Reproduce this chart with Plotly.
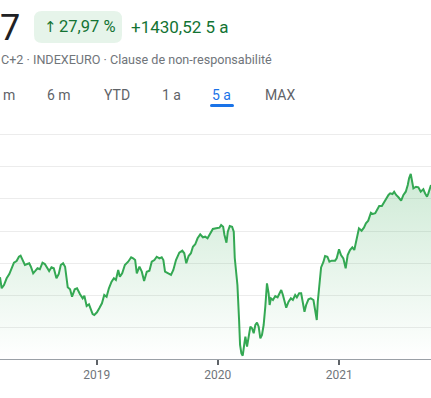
import plotly.graph_objects as go

# ---- data ----
dates = [
    "2018-03-16","2018-03-21","2018-03-28","2018-04-05","2018-04-13","2018-04-20","2018-04-27",
    "2018-05-05","2018-05-12","2018-05-17","2018-05-23","2018-05-30","2018-06-06","2018-06-12",
    "2018-06-17","2018-06-24","2018-07-01","2018-07-07","2018-07-14","2018-07-22","2018-07-29",
    "2018-08-05","2018-08-11","2018-08-18","2018-08-25","2018-09-02","2018-09-09","2018-09-15",
    "2018-09-22","2018-09-28","2018-10-06","2018-10-13","2018-10-19","2018-10-27","2018-11-03",
    "2018-11-12","2018-11-20","2018-11-25","2018-12-02","2018-12-09","2018-12-14","2018-12-20",
    "2018-12-25",
    "2019-01-02","2019-01-09","2019-01-17","2019-01-24","2019-01-31","2019-02-07","2019-02-15",
    "2019-02-22","2019-02-28","2019-03-07","2019-03-12","2019-03-19","2019-03-27","2019-04-06",
    "2019-04-15","2019-04-21","2019-04-27","2019-05-02","2019-05-10","2019-05-17","2019-05-24",
    "2019-06-01","2019-06-09","2019-06-16","2019-06-24","2019-07-01","2019-07-09","2019-07-16",
    "2019-07-21","2019-07-26","2019-08-05","2019-08-13","2019-08-20","2019-08-28","2019-09-07",
    "2019-09-16","2019-09-22","2019-09-28","2019-10-05","2019-10-12","2019-10-18","2019-10-25",
    "2019-11-01","2019-11-09","2019-11-17","2019-11-24","2019-12-01","2019-12-09","2019-12-17",
    "2019-12-27",
    "2020-01-06","2020-01-11","2020-01-17","2020-01-21","2020-01-27","2020-01-31","2020-02-06",
    "2020-02-13","2020-02-18","2020-02-21","2020-02-25","2020-02-29","2020-03-05","2020-03-08",
    "2020-03-12","2020-03-16","2020-03-21","2020-03-24","2020-03-29","2020-04-03","2020-04-08",
    "2020-04-13","2020-04-18","2020-04-23","2020-04-28","2020-05-03","2020-05-08","2020-05-13",
    "2020-05-18","2020-05-23","2020-05-28","2020-06-02","2020-06-05","2020-06-09","2020-06-15",
    "2020-06-22","2020-06-29","2020-07-05","2020-07-10","2020-07-15","2020-07-20","2020-07-25",
    "2020-08-01","2020-08-08","2020-08-14","2020-08-21","2020-08-26","2020-09-02","2020-09-08",
    "2020-09-13","2020-09-18","2020-09-23","2020-09-30","2020-10-07","2020-10-15","2020-10-20",
    "2020-10-25","2020-10-28","2020-11-02","2020-11-07","2020-11-14","2020-11-19","2020-11-26",
    "2020-12-02","2020-12-09","2020-12-19","2020-12-24","2020-12-31",
    "2021-01-06","2021-01-13","2021-01-20","2021-01-26","2021-02-02","2021-02-09","2021-02-15",
    "2021-02-22","2021-03-01","2021-03-09","2021-03-16","2021-03-22","2021-03-29","2021-04-06",
    "2021-04-12","2021-04-19","2021-04-24","2021-05-01","2021-05-09","2021-05-16","2021-05-22",
    "2021-05-29","2021-06-03","2021-06-10","2021-06-15","2021-06-21","2021-06-28","2021-07-06",
    "2021-07-13","2021-07-20","2021-07-26","2021-07-30","2021-08-04","2021-08-07","2021-08-12",
    "2021-08-20","2021-08-27","2021-09-03","2021-09-11","2021-09-16","2021-09-22","2021-09-26",
    "2021-10-01","2021-10-04",
]
values = [
    4777,4605,4656,4761,4828,4917,5005,
    5031,5098,5114,5047,4969,4984,4995,
    4942,4839,4880,4917,4902,5005,4984,
    4917,4875,4933,4917,4761,4828,4969,
    4995,4942,4620,4589,4473,4589,4605,
    4511,4448,4489,4328,4355,4292,4203,
    4188,
    4230,4292,4370,4500,4473,4605,4708,
    4761,4734,4891,4786,4839,4969,5020,
    5089,5073,5047,4839,4942,4864,4719,
    4864,4880,5020,5047,5098,5073,5089,
    5047,4864,4828,4813,4891,5047,5161,
    5192,5152,4995,5109,5152,5255,5292,
    5386,5448,5402,5411,5386,5464,5531,
    5542,
    5552,5594,5567,5438,5317,5489,5578,
    5567,5489,5078,4786,4656,4109,3719,
    3589,3552,3745,3848,3692,3875,4005,
    3980,3902,4031,4067,4005,3823,3875,
    4031,4317,4683,4527,4344,4448,4422,
    4484,4464,4527,4578,4500,4395,4302,
    4395,4448,4422,4500,4464,4527,4527,
    4395,4239,4344,4433,4448,4422,4266,
    4109,4395,4734,4930,5016,5109,5098,
    5020,5036,5036,5073,5214,
    5125,5073,4917,5125,5203,5245,5203,
    5359,5542,5505,5552,5620,5661,5786,
    5766,5777,5828,5891,5891,5958,6011,
    6063,6089,6078,6114,6063,6027,5973,
    6063,6114,6219,6323,6391,6297,6167,
    6192,6183,6114,6152,6089,6036,6089,
    6192,6219,
]
tick_vals = ["2019-01-01", "2020-01-01", "2021-01-01"]
tick_text = ["2019", "2020", "2021"]
x_window = ["2018-03-16", "2021-10-04"]
y_window = [3500, 7078]
grid_step = 500

header_value = "7"
badge_arrow = "↑"
badge_pct = "27,97 %"
change_text = "+1430,52 5 a"
source_text = "C+2 · INDEXEURO · Clause de non-responsabilité"
tabs = ["m", "6 m", "YTD", "1 a", "5 a", "MAX"]
tab_centers = [8.5, 59, 117, 171.5, 222, 280]
active_tab = "5 a"

# ---- layout geometry (pixels) ----
W, H = 431, 398
PLOT_TOP, PLOT_BOTTOM = 130, 359
PH = PLOT_BOTTOM - PLOT_TOP

def px(x):
    return x / W

def py(y):
    return (PLOT_BOTTOM - y) / PH

GREEN_LINE = "#34a853"
GREEN_TEXT = "#137333"
GREY_TEXT = "#70757a"
TAB_GREY = "#5f6368"
BLUE = "#1a73e8"
FONT = "Roboto, Arial, sans-serif"

fig = go.Figure()
fig.add_trace(go.Scatter(
    x=dates, y=values, mode="lines",
    line=dict(color=GREEN_LINE, width=2),
    fill="tozeroy",
    fillgradient=dict(
        type="vertical",
        colorscale=[[0, "rgba(52,168,83,0.0)"], [1, "rgba(52,168,83,0.24)"]],
        start=y_window[0], stop=max(values),
    ),
    hoverinfo="skip",
))

def rounded_rect(x0, y0, x1, y1, r):
    X0, X1 = px(x0), px(x1)
    Y0, Y1 = py(y0), py(y1)
    rx, ry = r / W, r / PH
    return (f"M {X0+rx},{Y0} L {X1-rx},{Y0} Q {X1},{Y0} {X1},{Y0-ry} "
            f"L {X1},{Y1+ry} Q {X1},{Y1} {X1-rx},{Y1} "
            f"L {X0+rx},{Y1} Q {X0},{Y1} {X0},{Y1+ry} "
            f"L {X0},{Y0-ry} Q {X0},{Y0} {X0+rx},{Y0} Z")

shapes = [
    dict(type="path", xref="paper", yref="paper",
         path=rounded_rect(34, 11, 122, 43, 8),
         fillcolor="#e6f4ea", line=dict(width=0), layer="above"),
    dict(type="path", xref="paper", yref="paper",
         path=rounded_rect(210, 104, 234, 107, 1.5),
         fillcolor=BLUE, line=dict(width=0), layer="above"),
]

annotations = [
    dict(text=header_value, x=px(-2), y=py(28), xanchor="left", yanchor="middle",
         font=dict(family=FONT, size=36, color="#202124")),
    dict(text=badge_arrow, x=px(50), y=py(27), xanchor="center", yanchor="middle",
         font=dict(family="DejaVu Sans, " + FONT, size=15, color=GREEN_TEXT)),
    dict(text=badge_pct, x=px(57), y=py(27), xanchor="left", yanchor="middle",
         font=dict(family=FONT, size=16.5, color=GREEN_TEXT)),
    dict(text=change_text, x=px(129), y=py(27), xanchor="left", yanchor="middle",
         font=dict(family=FONT, size=17, color=GREEN_TEXT)),
    dict(text=source_text, x=px(-1), y=py(59), xanchor="left", yanchor="middle",
         font=dict(family=FONT, size=12.6, color=GREY_TEXT)),
]
for t, cx in zip(tabs, tab_centers):
    annotations.append(dict(
        text=t, x=px(cx), y=py(94.5), xanchor="center", yanchor="middle",
        font=dict(family=FONT, size=14, color=BLUE if t == active_tab else TAB_GREY)))
for a in annotations:
    a.update(xref="paper", yref="paper", showarrow=False)

fig.update_layout(
    width=W, height=H,
    margin=dict(l=0, r=0, t=PLOT_TOP, b=H - PLOT_BOTTOM, pad=0),
    paper_bgcolor="white", plot_bgcolor="white",
    showlegend=False,
    shapes=shapes, annotations=annotations,
    xaxis=dict(
        range=x_window, type="date",
        tickvals=tick_vals, ticktext=tick_text,
        showgrid=False, zeroline=False,
        showline=True, linecolor="#9aa0a6", linewidth=1,
        ticks="outside", ticklen=5, tickwidth=2, tickcolor="#5f6368",
        tickfont=dict(family=FONT, size=12, color=GREY_TEXT),
        fixedrange=True,
    ),
    yaxis=dict(
        range=y_window, dtick=grid_step, tick0=y_window[0],
        showgrid=True, gridcolor="#ececec", gridwidth=1,
        zeroline=False, showticklabels=False, ticks="",
        fixedrange=True,
    ),
)

fig.write_html(
    "out.html",
    config=dict(displayModeBar=False),
    post_script="document.body.style.margin='0';document.body.style.padding='0';document.body.style.overflow='hidden';",
)
